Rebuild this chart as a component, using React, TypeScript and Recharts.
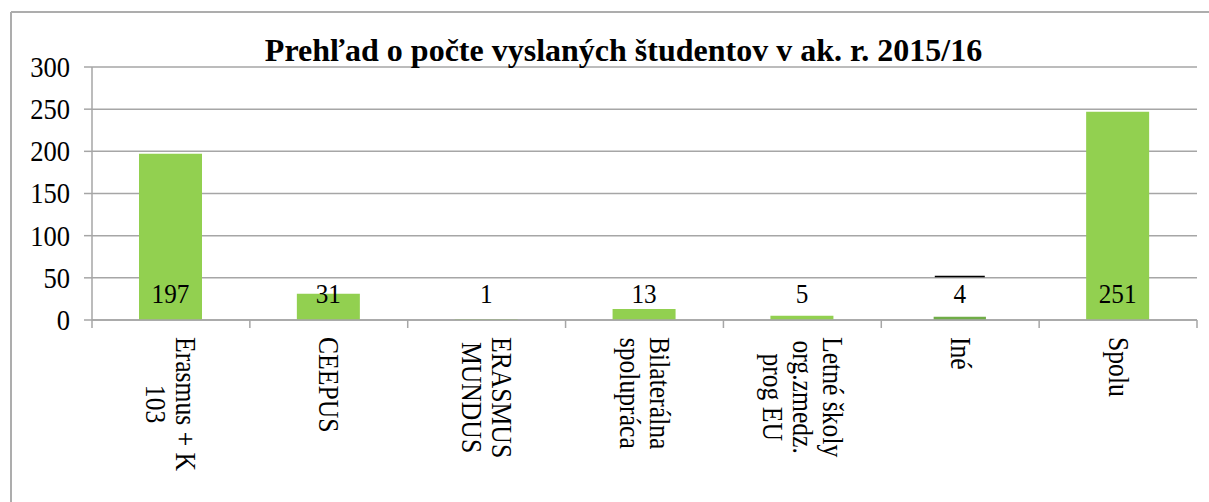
import { BarChart, Bar, XAxis, YAxis, CartesianGrid, Cell, LabelList, Rectangle } from 'recharts';

// Prehľad o počte vyslaných študentov v ak. r. 2015/16
const categories = [
  'Erasmus + K\n103',
  'CEEPUS',
  'ERASMUS\nMUNDUS',
  'Bilaterálna\nspolupráca',
  'Letné školy\norg.zmedz.\nprog EU',
  'Iné',
  'Spolu',
];
const students = [197, 31, 1, 13, 5, 4, 247]; // bar heights as drawn
const valueLabels = ['197', '31', '1', '13', '5', '4', '251']; // labels as printed
const yTicks = [0, 50, 100, 150, 200, 250, 300];

const data = categories.map((name, i) => ({ name, students: students[i], label: valueLabels[i] }));

const W = 1209;
const H = 502;
const MARGIN = { top: 67, right: 12, bottom: 0, left: 12 };
const Y_AXIS_W = 80;
const X_AXIS_H = 182;
const AXIS_Y = H - MARGIN.bottom - X_AXIS_H;
const PLOT_W = W - MARGIN.left - MARGIN.right - Y_AXIS_W;
const BAND_HALF = PLOT_W / categories.length / 2;

const FONT = "'Liberation Serif', 'Times New Roman', serif";
const GRID = '#A6A6A6';
const GREEN = '#92D050';
const DARK_GREEN = '#70AD47';
const ODD_ONE = 'Iné';
const CAT_SIZE = 28.5;
const SX = 0.9; // the source font is a bit narrower than Liberation Serif

let ctx: CanvasRenderingContext2D | null = null;
function textWidth(s: string) {
  if (!ctx) ctx = document.createElement('canvas').getContext('2d');
  if (!ctx) return s.length * CAT_SIZE * 0.5;
  ctx.font = `${CAT_SIZE}px ${FONT}`;
  return ctx.measureText(s).width;
}

function CategoryTick(props: any) {
  const { x, payload, index } = props;
  const half = BAND_HALF;
  const lines = String(payload.value).split('\n');
  const lineH = 30;
  const longest = Math.max(...lines.map(textWidth));
  return (
    <g>
      <line x1={x - half} y1={AXIS_Y} x2={x - half} y2={AXIS_Y + 8} stroke={GRID} strokeWidth={1.5} />
      {index === categories.length - 1 && (
        <line x1={x + half} y1={AXIS_Y} x2={x + half} y2={AXIS_Y + 8} stroke={GRID} strokeWidth={1.5} />
      )}
      <text
        transform={`translate(${x},${AXIS_Y + 17}) rotate(90) scale(${SX},1)`}
        fontSize={CAT_SIZE}
        fontFamily={FONT}
        fill="#000"
        textAnchor="middle"
        dominantBaseline="central"
      >
        {lines.map((l, i) => (
          <tspan key={i} x={longest / 2} y={(i - (lines.length - 1) / 2) * lineH}>
            {l}
          </tspan>
        ))}
      </text>
    </g>
  );
}

function ValueTick(props: any) {
  const { x, y, payload } = props;
  return (
    <text
      transform={`translate(${x},${y}) scale(${SX},1)`}
      textAnchor="end"
      dominantBaseline="central"
      fontSize={29.5}
      fontFamily={FONT}
      fill="#000"
    >
      {payload.value}
    </text>
  );
}

function ValueLabel(props: any) {
  const { x, y, width, height, index } = props;
  const cx = x + width / 2;
  const base = y + height - 17;
  return (
    <g>
      {categories[index] === ODD_ONE && (
        <line x1={cx - 25} y1={base - 26.5} x2={cx + 25} y2={base - 26.5} stroke="#000" strokeWidth={1.5} />
      )}
      <text
        transform={`translate(${cx},${base}) scale(${SX},1)`}
        textAnchor="middle"
        fontSize={28}
        fontFamily={FONT}
        fill="#000"
      >
        {valueLabels[index]}
      </text>
    </g>
  );
}

function BarShape(props: any) {
  const { x, y, width, height, index } = props;
  if (categories[index] === ODD_ONE) {
    const w = width * 0.83;
    return <Rectangle x={x + (width - w) / 2} y={y} width={w} height={height} fill={DARK_GREEN} />;
  }
  return <Rectangle x={x} y={y} width={width} height={height} fill={GREEN} />;
}

export default function App() {
  return (
    <div
      style={{
        position: 'absolute',
        left: 0,
        top: 0,
        width: W,
        height: H,
        background: '#fff',
        overflow: 'hidden',
        fontFamily: FONT,
      }}
    >
      <BarChart width={W} height={H} data={data} margin={MARGIN} barSize={63}>
        <CartesianGrid horizontal vertical={false} stroke={GRID} strokeWidth={1.5} />
        <XAxis
          dataKey="name"
          interval={0}
          height={X_AXIS_H}
          axisLine={{ stroke: GRID, strokeWidth: 1.5 }}
          tickLine={false}
          tick={<CategoryTick />}
        />
        <YAxis
          width={Y_AXIS_W}
          domain={[0, 300]}
          ticks={yTicks}
          interval={0}
          axisLine={{ stroke: GRID, strokeWidth: 1.5 }}
          tickLine={{ stroke: GRID, strokeWidth: 1.5 }}
          tickSize={8}
          tickMargin={14}
          tick={<ValueTick />}
        />
        <Bar dataKey="students" isAnimationActive={false} shape={<BarShape />}>
          {data.map((d, i) => (
            <Cell key={i} fill={d.name === ODD_ONE ? DARK_GREEN : GREEN} />
          ))}
          <LabelList dataKey="label" content={<ValueLabel />} />
        </Bar>
      </BarChart>
      <svg width={W} height={H} style={{ position: 'absolute', left: 0, top: 0, pointerEvents: 'none' }}>
        <line x1={11} y1={12} x2={W} y2={12} stroke="#ADADAD" strokeWidth={2} />
        <line x1={11} y1={12} x2={11} y2={H} stroke="#ADADAD" strokeWidth={2} />
        <text x={623.5} y={61} textAnchor="middle" fontSize={32} fontWeight="bold" fontFamily={FONT} fill="#000">
          Prehľad o počte vyslaných študentov v ak. r. 2015/16
        </text>
      </svg>
    </div>
  );
}
